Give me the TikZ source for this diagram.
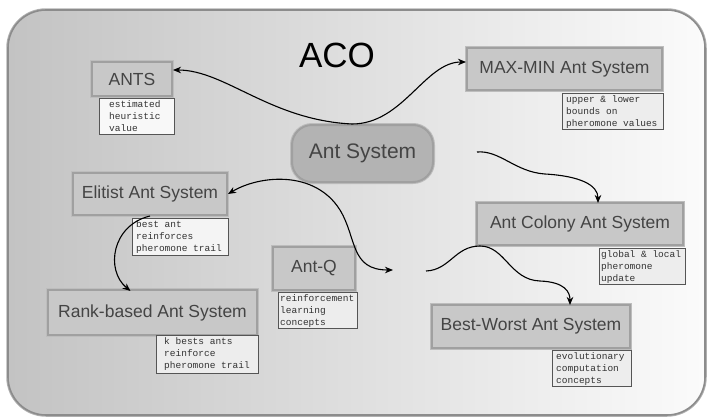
\documentclass[tikz,border=0pt]{standalone}
\usepackage{fontspec}
\setmainfont{Liberation Sans}
\newfontfamily\notefont{Liberation Mono}
\usetikzlibrary{arrows.meta}
\definecolor{boxfill}{HTML}{C8C8C8}
\definecolor{boxline}{HTML}{A0A0A0}
\definecolor{boxhalo}{HTML}{BDBDBD}
\definecolor{asfill}{HTML}{B3B3B3}
\definecolor{boxtext}{HTML}{444444}
\definecolor{notefill}{HTML}{EDEDED}
\definecolor{notewhite}{HTML}{F8F8F8}
\definecolor{noteline}{HTML}{555555}
\definecolor{notetextc}{HTML}{333333}
\definecolor{bgleft}{HTML}{C3C3C3}
\definecolor{bgright}{HTML}{FBFBFB}
\definecolor{bgline}{HTML}{8C8C8C}
\definecolor{bghalo}{HTML}{B0B0B0}
\begin{document}
\begin{tikzpicture}[x=1pt,y=-1pt,
  panel/.style={rectangle, rounded corners=38pt, left color=bgleft, right color=bgright,
    draw=bgline, line width=1.6pt, preaction={draw=bghalo, line width=3.5pt}, inner sep=0pt},
  box/.style={rectangle, fill=boxfill, draw=boxline, line width=2pt,
    preaction={draw=boxhalo, line width=4pt}, text=boxtext,
    font=\fontsize{17.5}{20}\selectfont, inner sep=0pt},
  mainbox/.style={box, fill=asfill, rounded corners=20pt, font=\fontsize{21}{24}\selectfont},
  notebox/.style={rectangle, fill=notefill, draw=noteline, line width=0.6pt,
    anchor=north west, inner sep=0pt},
  notetext/.style={anchor=north west, inner sep=0pt, align=left, text=notetextc,
    font=\notefont\fontsize{9.5}{12}\selectfont},
  title/.style={font=\fontsize{35}{40}\selectfont, text=black, inner sep=0pt},
  link/.style={draw=black, line width=1.1pt},
  tipend/.style={-{Stealth[length=8pt,width=6.5pt,inset=2.5pt]}},
  tipboth/.style={{Stealth[length=8pt,width=6.5pt,inset=2.5pt]}-{Stealth[length=8pt,width=6.5pt,inset=2.5pt]}}
]
\useasboundingbox (0,0) rectangle (707,418);
\node[panel, minimum width=697pt, minimum height=405pt] (bg) at (356.5,212.5) {};

\node[title] (aco) at (337,55) {ACO};

% main boxes
\node[box, minimum width=80pt, minimum height=34pt] (ants) at (132,79) {ANTS};
\node[box, minimum width=195pt, minimum height=42pt] (maxmin) at (564.5,69) {MAX-MIN Ant System};
\node[mainbox, minimum width=141pt, minimum height=57pt] (as) at (362.5,153.5) {Ant System};
\node[box, minimum width=154pt, minimum height=42pt] (elitist) at (150,194) {Elitist Ant System};
\node[box, minimum width=209pt, minimum height=45pt] (rank) at (152.5,312.5) {Rank-based Ant System};
\node[box, minimum width=82pt, minimum height=43pt] (antq) at (314,268.5) {Ant-Q};
\node[box, minimum width=206pt, minimum height=42pt] (acs) at (580,224) {Ant Colony Ant System};
\node[box, minimum width=198pt, minimum height=43pt] (bw) at (531,326.5) {Best-Worst Ant System};

% notes
\node[notebox, fill=notewhite, minimum width=75pt, minimum height=36pt] (nants) at (99,98) {};
\node[notetext] (tants) at ([xshift=10pt,yshift=-2pt]nants.north west) {estimated\\heuristic\\value};

\node[notebox, minimum width=101pt, minimum height=36pt] (nmaxmin) at (562,93) {};
\node[notetext] (tmaxmin) at ([xshift=4pt,yshift=-2pt]nmaxmin.north west) {upper \& lower\\bounds on\\pheromone values};

\node[notebox, fill=notewhite!60!notefill, minimum width=96pt, minimum height=37pt] (nelitist) at (132,218) {};
\node[notetext] (telitist) at ([xshift=4pt,yshift=-2pt]nelitist.north west) {best ant\\reinforces\\pheromone trail};

\node[notebox, minimum width=102pt, minimum height=38pt] (nrank) at (156,335) {};
\node[notetext] (trank) at ([xshift=8pt,yshift=-2pt]nrank.north west) {k bests ants\\reinforce\\pheromone trail};

\node[notebox, minimum width=79pt, minimum height=36pt] (nantq) at (278,292) {};
\node[notetext] (tantq) at ([xshift=2pt,yshift=-2pt]nantq.north west) {reinforcement\\learning\\concepts};

\node[notebox, minimum width=86pt, minimum height=36pt] (nacs) at (599,248) {};
\node[notetext] (tacs) at ([xshift=2pt,yshift=-2pt]nacs.north west) {global \& local\\pheromone\\update};

\node[notebox, minimum width=79pt, minimum height=36pt] (nbw) at (552,350) {};
\node[notetext] (tbw) at ([xshift=4pt,yshift=-2pt]nbw.north west) {evolutionary\\computation\\concepts};

% free ends of connectors
\coordinate (m1) at (352,124);
\coordinate (s2) at (477,152);
\coordinate (e3) at (393,270);
\coordinate (s4) at (426,271);

% connectors
\draw[link, tipboth] ([yshift=9pt]ants.east) .. controls (225,70) and (270,120) .. (m1)
  .. controls (403,124) and (425,62) .. ([yshift=7pt]maxmin.west);
\draw[link, tipend] (s2) .. controls (500,150) and (515,172) .. (545,174)
  .. controls (580,176) and (598,185) .. ([xshift=18pt,yshift=-1pt]acs.north);
\draw[link, tipboth] (elitist.east) .. controls (260,175) and (315,170) .. (340,210)
  .. controls (357,238) and (350,270) .. (e3);
\draw[link, tipend] (s4) .. controls (450,270) and (455,246) .. (480,246)
  .. controls (505,246) and (510,280) .. (540,281)
  .. controls (565,282) and (570,292) .. ([xshift=39pt,yshift=-1pt]bw.north);
\draw[link, tipend] (elitist.south) .. controls (112,225) and (105,270) .. ([xshift=-22pt,yshift=-2pt]rank.north);
\end{tikzpicture}
\end{document}
